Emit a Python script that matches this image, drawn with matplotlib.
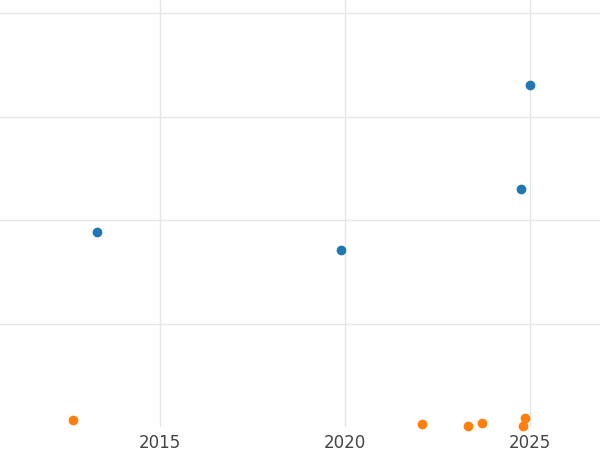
import numpy as np
import matplotlib.pyplot as plt

blue_x = [2013.3, 2019.9, 2024.76, 2025.0]
blue_y = [1.88, 1.71, 2.30, 3.30]
orange_x = [2012.65, 2022.08, 2023.32, 2023.70, 2024.86, 2024.81]
orange_y = [0.07, 0.03, 0.01, 0.04, 0.09, 0.01]

fig = plt.figure(figsize=(6, 4.5), dpi=100)
ax = fig.add_axes([0, 0.051, 1, 0.949])
ax.scatter(blue_x, blue_y, s=36, color="#1f77b4", zorder=3, clip_on=False)
ax.scatter(orange_x, orange_y, s=36, color="#ff7f0e", zorder=3, clip_on=False)
ax.set_xlim(2010.68, 2026.89)
ax.set_ylim(0, 4.126)
ax.set_xticks([2015, 2020, 2025])
ax.set_yticks([1, 2, 3, 4])
ax.set_yticklabels([])
ax.grid(True, color="#e6e6e6", linewidth=1)
ax.set_axisbelow(True)
for s in ax.spines.values():
    s.set_visible(False)
ax.tick_params(length=0, labelsize=12, colors="#444444", pad=5)
ax.tick_params(axis="y", left=False)
fig.savefig("out.png")
